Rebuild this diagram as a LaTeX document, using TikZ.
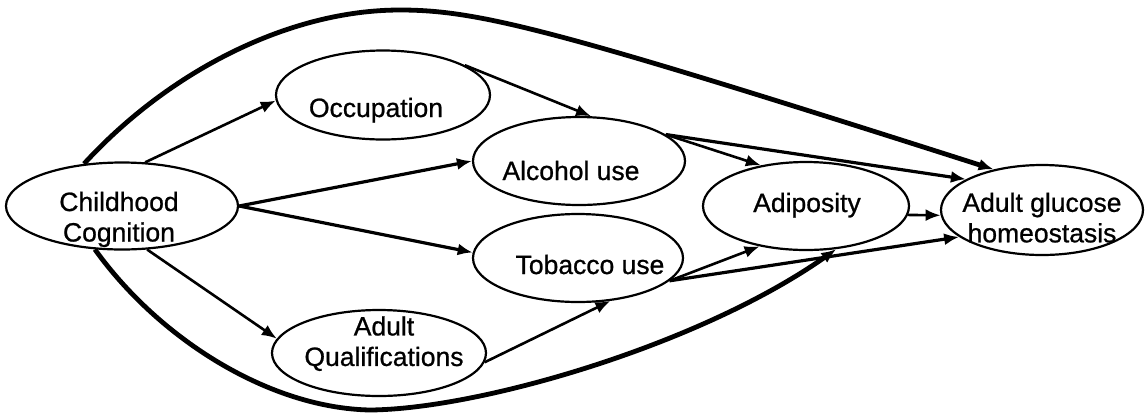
\documentclass[tikz,border=0pt]{standalone}
\usepackage{fontspec}
\setmainfont{Liberation Sans}
\newfontfamily\lblfont[FakeBold=0.8]{Liberation Sans}
\usetikzlibrary{shapes.geometric,arrows.meta}
\begin{document}
\begin{tikzpicture}[>={Latex[length=15pt,width=12pt]}, x=1pt, y=-1pt,
  ell/.style={draw, ellipse, line width=2.2pt, inner sep=0pt},
  lbl/.style={font=\lblfont\fontsize{26.5}{30.5}\selectfont, align=center, inner sep=0pt},
  arr/.style={->, line width=2.6pt},
  arrb/.style={->, line width=3.2pt},
  bigarr/.style={->, line width=4.8pt}]
\useasboundingbox (0,0) rectangle (1145,416);
% ellipses
\node[ell, minimum width=232pt, minimum height=87pt] (cog) at (122,206) {};
\node[ell, minimum width=214pt, minimum height=89pt] (occ) at (383,95) {};
\node[ell, minimum width=212pt, minimum height=88pt] (alc) at (579,161) {};
\node[ell, minimum width=210pt, minimum height=88pt] (tob) at (578,258) {};
\node[ell, minimum width=214pt, minimum height=86pt] (qual) at (379,353) {};
\node[ell, minimum width=206pt, minimum height=88pt] (adi) at (806,206) {};
\node[ell, minimum width=202pt, minimum height=90pt] (glu) at (1042,210) {};
% labels
\node[lbl] (cogtxt) at (119,219.4) {Childhood\\Cognition};
\node[lbl, anchor=base] (occtxt) at (376,117) {Occupation};
\node[lbl, anchor=base] (alctxt) at (571,180) {Alcohol use};
\node[lbl, anchor=base] (tobtxt) at (590,274) {Tobacco use};
\node[lbl] (qualtxt) at (384,343.6) {Adult\\Qualifications};
\node[lbl, anchor=base] (aditxt) at (807,212) {Adiposity};
\node[lbl] (glutxt) at (1042,217.6) {Adult glucose\\homeostasis};
% paths
\draw[arr] (cog.62) -- (occ.183);
\draw[arrb] (cog.0) -- (alc.180);
\draw[arrb] (cog.0) -- (tob.177);
\draw[arr] (cog.-60) -- (qual.172);
\draw[arr] (occ.20) -- (alc.75);
\draw[arr] (alc.17) -- (adi.138);
\draw[arrb] (alc.17) -- (glu.158);
\draw[arr] (tob.-14) -- (adi.-139);
\draw[arrb] (tob.-14) -- (glu.-162);
\draw[arr] (adi.-5) -- (glu.-177);
\draw[arr] (qual.-5) -- (tob.-53);
\draw[bigarr] (cog.132) .. controls (170,70) and (290,10) .. (400,10)
  .. controls (480,10) and (560,31) .. (glu.140);
\draw[bigarr] (cog.-122) .. controls (160,340) and (270,408) .. (370,410)
  .. controls (480,409) and (700,345) .. (adi.-55);
\end{tikzpicture}
\end{document}
